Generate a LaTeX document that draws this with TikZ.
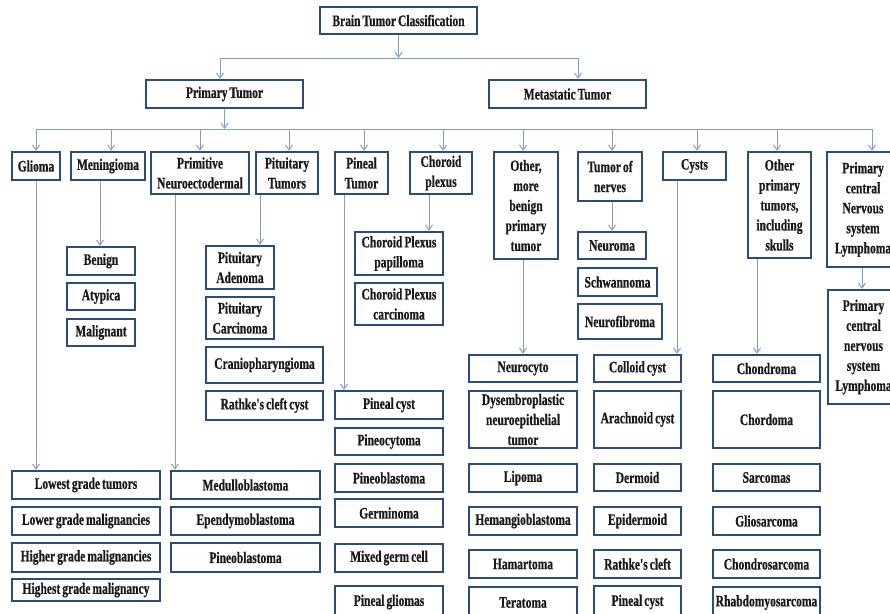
\documentclass[tikz,border=0pt]{standalone}
\usepackage{fontspec}
\newfontfamily\boxfont[FakeStretch=0.72,FakeBold=0.6,WordSpace=0.7]{Liberation Serif}
\usetikzlibrary{arrows.meta}
\definecolor{boxc}{HTML}{2C4C7E}
\definecolor{linkc}{HTML}{809FCE}
\definecolor{txtc}{HTML}{1A1A1A}
\tikzset{
  box/.style={draw=boxc, line width=2.4pt, fill=white, inner sep=0pt, align=center, text=txtc,
    font={\boxfont\bfseries\fontsize{16}{20}\selectfont}},
  link/.style={draw=linkc, line width=1pt},
  arr/.style={link, -{Straight Barb[length=5pt,width=7pt]}}
}
\newcommand\bx[6]{\node[box,minimum width={(#4-#2-2)*1pt},minimum height={(#5-#3-2)*1pt}] (#1) at ({(#2+#4)/2},{(#3+#5)/2}) {#6};}
\begin{document}
\begin{tikzpicture}[x=1pt,y=-1pt]
\useasboundingbox (0,0) rectangle (890,613);
\clip (0,0) rectangle (890,613);
\fill[white] (0,0) rectangle (890,613);
% top levels
\bx{brain}{319}{6}{478}{35}{Brain Tumor Classification}
\bx{primary}{145}{79}{304}{109}{Primary Tumor}
\bx{meta}{488}{79}{647}{109}{Metastatic Tumor}
% level 2
\bx{glioma}{11}{151}{61}{181}{Glioma}
\bx{mening}{70}{151}{146}{181}{Meningioma}
\bx{prim}{150}{151}{250}{195}{Primitive\\Neuroectodermal}
\bx{pitu}{255}{151}{319}{195}{Pituitary\\Tumors}
\bx{pineal}{334}{151}{389}{195}{Pineal\\Tumor}
\bx{choroid}{409}{151}{473}{195}{Choroid\\plexus}
\bx{other}{493}{151}{559}{260}{Other,\\more\\benign\\primary\\tumor}
\bx{nerves}{577}{151}{643}{202}{Tumor of\\nerves}
\bx{cysts}{662}{151}{727}{181}{Cysts}
\bx{otherp}{747}{151}{812}{259}{Other\\primary\\tumors,\\including\\skulls}
\bx{pcnsl}{826}{151}{900}{268}{Primary\\central\\Nervous\\system\\Lymphoma}
% meningioma
\bx{benign}{66}{246}{136}{276}{Benign}
\bx{atypica}{66}{282}{136}{311}{Atypica}
\bx{malignant}{66}{318}{136}{347}{Malignant}
% glioma
\bx{lowest}{11}{470}{161}{500}{Lowest grade tumors}
\bx{lower}{11}{506}{161}{536}{Lower grade malignancies}
\bx{higher}{11}{542}{161}{573}{Higher grade malignancies}
\bx{highest}{11}{578}{161}{602}{Highest grade malignancy}
% primitive
\bx{medullo}{170}{470}{321}{500}{Medulloblastoma}
\bx{ependymo}{170}{506}{321}{536}{Ependymoblastoma}
\bx{pineobA}{170}{542}{321}{573}{Pineoblastoma}
% pituitary
\bx{pitad}{205}{245}{275}{290}{Pituitary\\Adenoma}
\bx{pitca}{205}{296}{275}{340}{Pituitary\\Carcinoma}
\bx{cranio}{205}{346}{324}{384}{Craniopharyngioma}
\bx{rathkeA}{205}{390}{324}{421}{Rathke's cleft cyst}
% choroid
\bx{cpp}{354}{231}{444}{276}{Choroid Plexus\\papilloma}
\bx{cpc}{354}{282}{444}{326}{Choroid Plexus\\carcinoma}
% pineal
\bx{pcystA}{334}{390}{444}{420}{Pineal cyst}
\bx{pineocyt}{334}{427}{444}{456}{Pineocytoma}
\bx{pineobB}{334}{463}{444}{493}{Pineoblastoma}
\bx{germ}{334}{498}{444}{528}{Germinoma}
\bx{mixed}{334}{543}{444}{573}{Mixed germ cell}
\bx{pglioma}{334}{585}{444}{619}{Pineal gliomas}
% other benign
\bx{neurocyto}{468}{354}{578}{383}{Neurocyto}
\bx{dysemb}{468}{390}{578}{449}{Dysembroplastic\\neuroepithelial\\tumor}
\bx{lipoma}{468}{463}{578}{493}{Lipoma}
\bx{hemang}{468}{506}{578}{536}{Hemangioblastoma}
\bx{hamart}{468}{549}{578}{579}{Hamartoma}
\bx{terat}{468}{586}{578}{619}{Teratoma}
% nerves
\bx{neuroma}{577}{231}{647}{260}{Neuroma}
\bx{schwann}{577}{267}{658}{297}{Schwannoma}
\bx{neurofib}{577}{303}{663}{340}{Neurofibroma}
% cysts
\bx{colloid}{593}{354}{682}{383}{Colloid cyst}
\bx{arach}{593}{390}{682}{449}{Arachnoid cyst}
\bx{dermoid}{593}{463}{682}{492}{Dermoid}
\bx{epiderm}{593}{506}{682}{536}{Epidermoid}
\bx{rathkeB}{593}{549}{682}{579}{Rathke's cleft}
\bx{pcystB}{593}{585}{682}{619}{Pineal cyst}
% other primary
\bx{chondroma}{712}{354}{821}{383}{Chondroma}
\bx{chordoma}{712}{390}{821}{449}{Chordoma}
\bx{sarcomas}{712}{463}{821}{492}{Sarcomas}
\bx{gliosarc}{712}{506}{821}{536}{Gliosarcoma}
\bx{chondrosarc}{712}{549}{821}{579}{Chondrosarcoma}
\bx{rhabdo}{712}{586}{821}{619}{Rhabdomyosarcoma}
% lymphoma
\bx{pcnslB}{827}{289}{900}{405}{Primary\\central\\nervous\\system\\Lymphoma}
% connectors: top
\coordinate (bus1) at (0,58);
\coordinate (bus2) at (0,129);
\draw[arr] (brain.south) -- (brain.south |- bus1);
\coordinate (tprimary) at ([xshift=-4.5pt]primary.north);
\coordinate (tmeta) at ([xshift=10.5pt]meta.north);
\draw[link] (tprimary |- bus1) -- (tmeta |- bus1);
\draw[arr] (tprimary |- bus1) -- (tprimary);
\draw[arr] (tmeta |- bus1) -- (tmeta);
% primary to level 2
\draw[arr] (primary.south) -- (primary.south |- bus2);
\foreach \n/\s in {glioma/0,mening/3,prim/0,pitu/2,pineal/2.5,choroid/2,other/-3,nerves/2,cysts/2.5,otherp/-2.5,pcnsl/9}{
  \coordinate (t\n) at ([xshift=\s pt]\n.north);
  \draw[arr] (t\n |- bus2) -- (t\n);
}
\draw[link] (tglioma |- bus2) -- (tpcnsl |- bus2);
% level 2 to level 3
\foreach \p/\s/\c in {glioma/0/lowest,mening/-8/benign,prim/-25/medullo,pitu/-27/pitad,pineal/-17.5/pcystA,choroid/-12/cpp,other/-3/neurocyto,nerves/2/neuroma,cysts/-17.5/colloid,otherp/-22.5/chondroma,pcnsl/-1/pcnslB}{
  \coordinate (s\p) at ([xshift=\s pt]\p.south);
  \draw[arr] (s\p) -- (s\p |- \c.north);
}
\end{tikzpicture}
\end{document}
